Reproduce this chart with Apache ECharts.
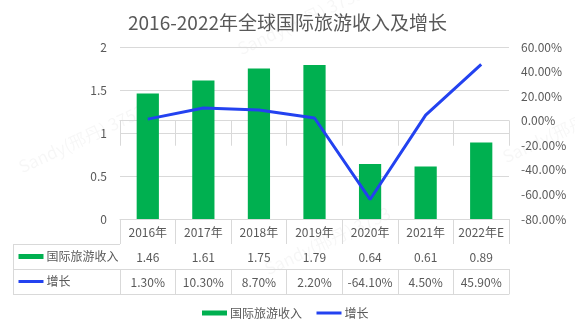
<!DOCTYPE html>
<html>
<head>
<meta charset="utf-8">
<script src="https://cdn.jsdelivr.net/npm/echarts@6/dist/echarts.min.js"></script>
<style>
  html, body { margin: 0; padding: 0; background: #fff; }
  #chart { width: 575px; height: 327px; }
</style>
</head>
<body>
<div id="chart"></div>
<script>
// Years shown along the category axis and in the table header row
const years = ['2016年', '2017年', '2018年', '2019年', '2020年', '2021年', '2022年E'];
// International tourism receipts (trillion USD)
const receipts = [1.46, 1.61, 1.75, 1.79, 0.64, 0.61, 0.89];
// Year-on-year growth, in percent
const growth = [1.3, 10.3, 8.7, 2.2, -64.1, 4.5, 45.9];
// Value-axis ticks
const leftTicks = { min: 0, max: 2, interval: 0.5 };
const rightTicks = { min: -80, max: 60, interval: 20 };

const seriesNames = ['国际旅游收入', '增长'];
const GREEN = '#00b050';
const BLUE = '#2342f0';
const TEXT = '#595959';
const RULE = '#d9d9d9';
const FONT = '"Noto Sans CJK SC", "Noto Sans", sans-serif';

// Layout of the plot and the data table underneath it
const W = 575, H = 327;
const GRID_L = 120, GRID_R = 509, GRID_T = 47, GRID_B = 219;
const ROW_H = 25;
const TABLE_L = 13;

const pct = v => v.toFixed(2) + '%';

// One category axis per table row; ticks between categories form the cell borders
function tableAxis(offset, formatter, showLabel) {
  return {
    type: 'category',
    data: years,
    gridIndex: 0,
    position: 'bottom',
    offset: offset,
    boundaryGap: true,
    axisLine: { show: true, lineStyle: { color: RULE, width: 1 } },
    axisTick: {
      show: showLabel, length: ROW_H, interval: 0, alignWithLabel: false,
      lineStyle: { color: RULE, width: 1 }
    },
    axisLabel: {
      show: showLabel, interval: 0, margin: 7, color: TEXT,
      fontSize: 12, fontFamily: FONT, formatter: formatter
    },
    splitLine: { show: false }
  };
}

// Borders of the left-hand header cells of the table
const headerLines = [];
for (let r = 1; r <= 3; r++) {
  const y = GRID_B + r * ROW_H + 0.5;
  headerLines.push({ type: 'line', shape: { x1: TABLE_L, y1: y, x2: GRID_L, y2: y },
    style: { stroke: RULE, lineWidth: 1 }, silent: true });
}
headerLines.push({ type: 'line',
  shape: { x1: TABLE_L + 0.5, y1: GRID_B + ROW_H, x2: TABLE_L + 0.5, y2: GRID_B + 3 * ROW_H + 1 },
  style: { stroke: RULE, lineWidth: 1 }, silent: true });

// Faint author watermark
const marks = [[16, 160], [235, 42], [262, 262], [500, 150]].map(p => ({
  type: 'text', x: p[0], y: p[1], rotation: 25 * Math.PI / 180, silent: true, z: 0,
  style: { text: 'Sandy(邢丹) 3753', fill: 'rgba(0,0,0,0.035)', fontSize: 17, fontFamily: FONT }
}));

// Legend entries: a flat bar key and a plain line key without a marker
const legendData = [
  { name: seriesNames[0], icon: 'rect' },
  { name: seriesNames[1], itemStyle: { opacity: 0 }, lineStyle: { width: 3 } }
];

const chart = echarts.init(document.getElementById('chart'), null, { renderer: 'canvas' });
chart.setOption({
  animation: false,
  backgroundColor: '#fff',
  title: {
    text: '2016-2022年全球国际旅游收入及增长',
    left: 'center', top: 8,
    textStyle: { color: TEXT, fontSize: 19, fontWeight: 'normal', fontFamily: FONT }
  },
  grid: { left: GRID_L, right: W - GRID_R, top: GRID_T, bottom: H - GRID_B, containLabel: false },
  legend: [
    {
      // legend keys inside the table's header column
      orient: 'vertical', left: TABLE_L + 4, top: GRID_B + ROW_H, itemGap: 0, padding: 0,
      itemWidth: 25, itemHeight: 5,
      textStyle: { color: TEXT, fontSize: 12, fontFamily: FONT, lineHeight: ROW_H, padding: [0, 0, 0, -2] },
      data: legendData,
      selectedMode: false
    },
    {
      // legend below the table
      orient: 'horizontal', left: 202, top: 307, itemGap: 13, padding: 0,
      itemWidth: 25, itemHeight: 5,
      textStyle: { color: TEXT, fontSize: 12, fontFamily: FONT, padding: [0, 0, 0, -2] },
      data: legendData,
      selectedMode: false
    }
  ],
  xAxis: [
    tableAxis(0, v => v, true),
    tableAxis(ROW_H, (v, i) => String(receipts[i]), true),
    tableAxis(2 * ROW_H, (v, i) => pct(growth[i]), true),
    tableAxis(3 * ROW_H, v => '', false)
  ],
  yAxis: [
    {
      type: 'value', min: leftTicks.min, max: leftTicks.max, interval: leftTicks.interval,
      axisLine: { show: false }, axisTick: { show: false },
      axisLabel: { color: TEXT, fontSize: 12, fontFamily: FONT, margin: 13 },
      splitLine: { show: true, lineStyle: { color: RULE, width: 1 } }
    },
    {
      type: 'value', min: rightTicks.min, max: rightTicks.max, interval: rightTicks.interval,
      position: 'right',
      axisLine: { show: false }, axisTick: { show: false },
      axisLabel: { color: TEXT, fontSize: 12, fontFamily: FONT, margin: 12, formatter: v => pct(v) },
      splitLine: { show: false }
    }
  ],
  series: [
    {
      name: seriesNames[0], type: 'bar', xAxisIndex: 0, yAxisIndex: 0,
      data: receipts, barWidth: '40%',
      itemStyle: { color: GREEN }, z: 2
    },
    {
      name: seriesNames[1], type: 'line', xAxisIndex: 0, yAxisIndex: 1,
      data: growth, symbol: 'none', showSymbol: false, smooth: false,
      lineStyle: { color: BLUE, width: 3 }, itemStyle: { color: BLUE }, z: 3
    }
  ],
  graphic: headerLines.concat(marks)
});
</script>
</body>
</html>
